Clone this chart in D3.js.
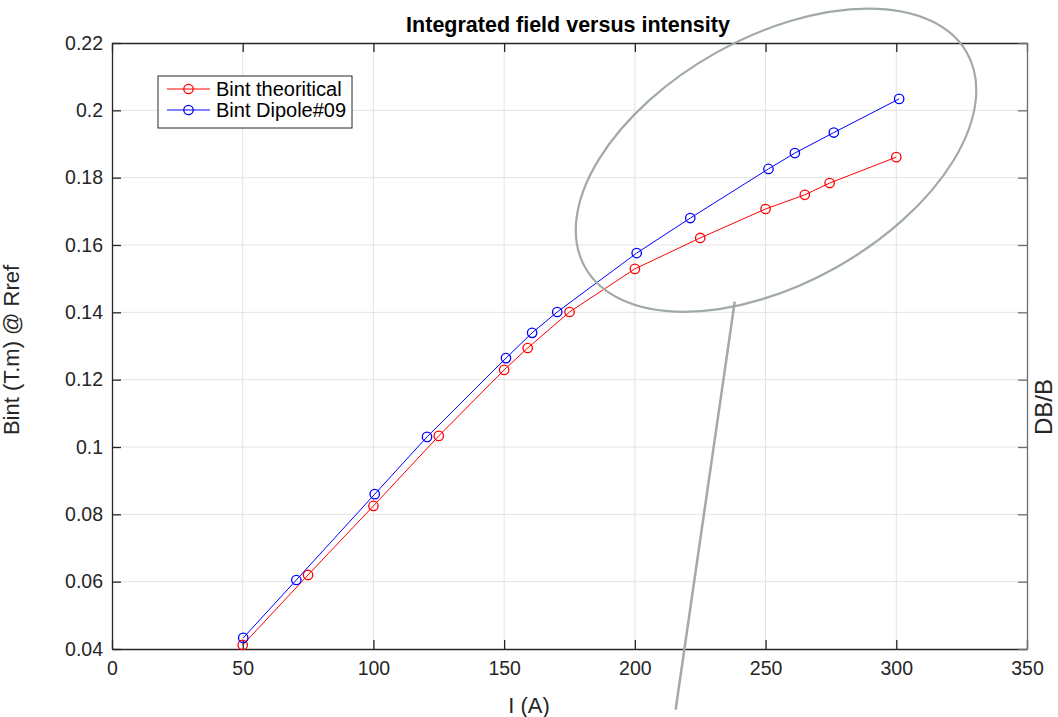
<!DOCTYPE html>
<html>
<head>
<meta charset="utf-8">
<script src="https://cdn.jsdelivr.net/npm/d3@7"></script>
<style>
  body{margin:0;background:#fff;}
  svg{font-family:"Liberation Sans",Arial,Helvetica,sans-serif;}
</style>
</head>
<body>
<script>
// data
const theoCurrent=[50,75,100,125,150,159,175,200,225,250,265,274.5,300]
const theoBint=[0.0412,0.0620,0.0825,0.1033,0.1229,0.1294,0.1401,0.1529,0.1621,0.1707,0.1749,0.1784,0.1861]
const dipCurrent=[50.2,70.5,100.5,120.5,150.7,160.7,170.3,200.7,221.2,251.1,261.2,276.1,301.1]
const dipBint=[0.0433,0.0605,0.0860,0.1030,0.1264,0.1339,0.1401,0.1576,0.1680,0.1826,0.1873,0.1934,0.2034]
const xTicks=[0,50,100,150,200,250,300,350]
const yTicks=[0.04,0.06,0.08,0.1,0.12,0.14,0.16,0.18,0.2,0.22]
const seriesNames=["Bint theoritical","Bint Dipole#09"]
const seriesColors=["#ff0000","#0000ff"]

const w=1058, h=717
const m={left:112,right:31,top:43,bottom:68}

const svg=d3.select("body").append("svg").attr("width",w).attr("height",h)

const xScale=d3.scaleLinear().domain([0,350]).range([m.left,w-m.right])
const yScale=d3.scaleLinear().domain([0.04,0.22]).range([h-m.bottom,m.top])

// grid
svg.append("g").selectAll("line").data(xTicks.slice(1,-1)).enter().append("line")
  .attr("x1",d=>xScale(d)).attr("x2",d=>xScale(d))
  .attr("y1",m.top).attr("y2",h-m.bottom)
  .attr("stroke","#e3e3e3").attr("stroke-width",1)
svg.append("g").selectAll("line").data(yTicks.slice(1,-1)).enter().append("line")
  .attr("y1",d=>yScale(d)).attr("y2",d=>yScale(d))
  .attr("x1",m.left).attr("x2",w-m.right)
  .attr("stroke","#e3e3e3").attr("stroke-width",1)

// axes
const fmtY=d=>d3.format("")(+d.toFixed(2))
const xAxis=d3.axisBottom(xScale).tickValues(xTicks).tickSizeInner(-9).tickSizeOuter(0).tickPadding(12.5)
const yAxis=d3.axisLeft(yScale).tickValues(yTicks).tickSizeInner(-9).tickSizeOuter(0).tickPadding(9).tickFormat(fmtY)
const xTop=d3.axisTop(xScale).tickValues(xTicks).tickSizeInner(-9).tickSizeOuter(0).tickFormat("")
const yRight=d3.axisRight(yScale).tickValues(yTicks).tickSizeInner(-9).tickSizeOuter(0).tickFormat("")

function styleAxis(g,col){
  g.select(".domain").attr("stroke",col).attr("stroke-width",1.3)
  g.selectAll(".tick line").attr("stroke",col).attr("stroke-width",1.3)
  g.selectAll(".tick text").attr("fill","#262626").attr("font-size",19.5)
}
svg.append("g").attr("transform","translate(0,"+(h-m.bottom)+")").call(xAxis).call(g=>styleAxis(g,"#262626"))
svg.append("g").attr("transform","translate("+m.left+",0)").call(yAxis).call(g=>styleAxis(g,"#262626"))
svg.append("g").attr("transform","translate(0,"+m.top+")").call(xTop).call(g=>styleAxis(g,"#262626"))
svg.append("g").attr("transform","translate("+(w-m.right)+",0)").call(yRight).call(g=>styleAxis(g,"#6e6e6e"))

// series
const series=[
  theoCurrent.map((x,i)=>[x,theoBint[i]]),
  dipCurrent.map((x,i)=>[x,dipBint[i]])
]
const line=d3.line().x(d=>xScale(d[0])).y(d=>yScale(d[1]))
series.forEach((s,k)=>{
  svg.append("path").datum(s).attr("d",line)
    .attr("fill","none").attr("stroke",seriesColors[k]).attr("stroke-width",1)
  svg.append("g").selectAll("circle").data(s).enter().append("circle")
    .attr("cx",d=>xScale(d[0])).attr("cy",d=>yScale(d[1])).attr("r",4.7)
    .attr("fill","none").attr("stroke",seriesColors[k]).attr("stroke-width",1.3)
})

// annotation ellipse + callout line (in data units)
const ellCenter=[254,0.1852]
const ann="#a0aaa7"
svg.append("ellipse")
  .attr("cx",0).attr("cy",0).attr("rx",219).attr("ry",123)
  .attr("transform","translate("+xScale(ellCenter[0])+","+yScale(ellCenter[1])+") rotate(-29.3)")
  .attr("fill","none").attr("stroke",ann).attr("stroke-width",2.2)
const callout=[[238.2,0.1432],[215.6,0.022]]
svg.append("line")
  .attr("x1",xScale(callout[0][0])).attr("y1",yScale(callout[0][1]))
  .attr("x2",xScale(callout[1][0])).attr("y2",yScale(callout[1][1]))
  .attr("stroke",ann).attr("stroke-width",2.5)

// legend
const lg=svg.append("g").attr("transform","translate(158,76)")
lg.append("rect").attr("width",194).attr("height",52).attr("fill","#fff")
  .attr("stroke","#262626").attr("stroke-width",1)
seriesNames.forEach((n,i)=>{
  const yy=13+i*21
  lg.append("line").attr("x1",9).attr("x2",52).attr("y1",yy).attr("y2",yy)
    .attr("stroke",seriesColors[i]).attr("stroke-width",1)
  lg.append("circle").attr("cx",30.5).attr("cy",yy).attr("r",4.7)
    .attr("fill","none").attr("stroke",seriesColors[i]).attr("stroke-width",1.3)
  lg.append("text").attr("x",58).attr("y",yy+7).attr("font-size",20).attr("fill","#000").text(n)
})

// titles
svg.append("text").attr("x",568).attr("y",32).attr("text-anchor","middle")
  .attr("font-size",21.5).attr("font-weight","bold").attr("fill","#000")
  .text("Integrated field versus intensity")
svg.append("text").attr("x",529).attr("y",713).attr("text-anchor","middle")
  .attr("font-size",22).attr("fill","#262626").text("I (A)")
svg.append("text").attr("transform","translate(19,350) rotate(-90)").attr("text-anchor","middle")
  .attr("font-size",22).attr("fill","#262626").text("Bint (T.m) @ Rref")
svg.append("text").attr("transform","translate(1052,407) rotate(-90)").attr("text-anchor","middle")
  .attr("font-size",24).attr("fill","#262626").text("DB/B")
</script>
</body>
</html>
